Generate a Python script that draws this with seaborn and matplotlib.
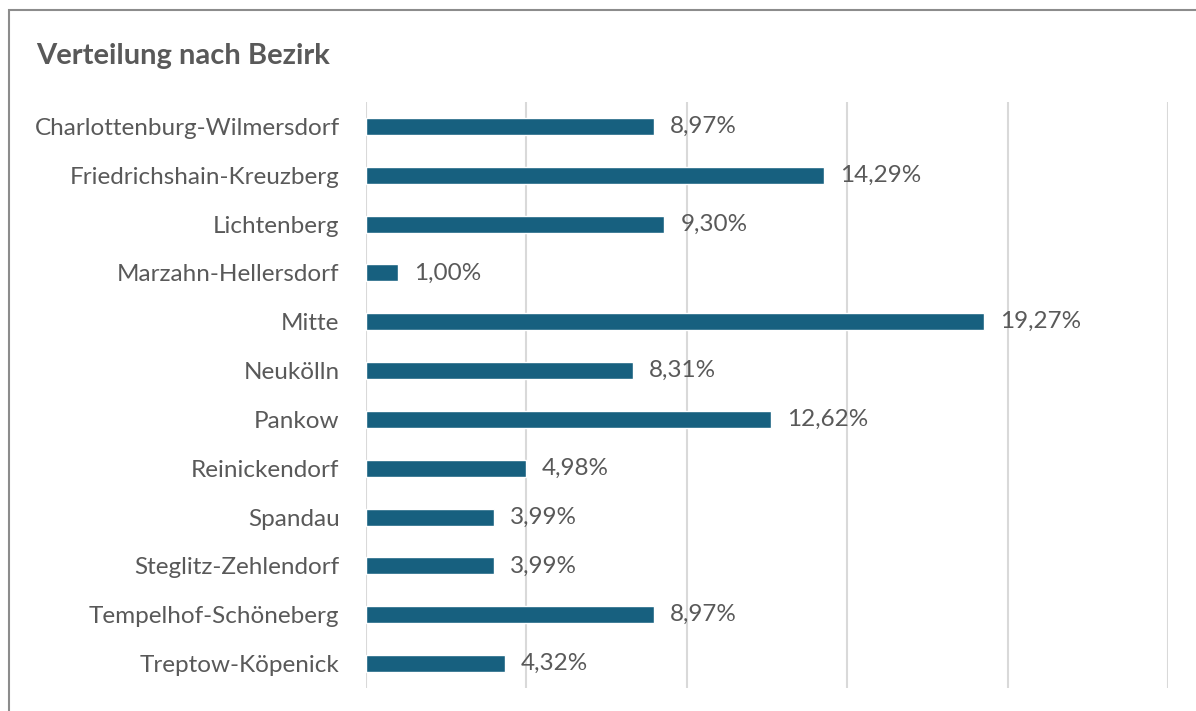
import matplotlib
matplotlib.use("Agg")
import matplotlib.pyplot as plt
import seaborn as sns
import pandas as pd
from matplotlib.patches import Rectangle

districts = ["Charlottenburg-Wilmersdorf", "Friedrichshain-Kreuzberg", "Lichtenberg",
             "Marzahn-Hellersdorf", "Mitte", "Neukölln", "Pankow", "Reinickendorf",
             "Spandau", "Steglitz-Zehlendorf", "Tempelhof-Schöneberg", "Treptow-Köpenick"]
shares = [8.97, 14.29, 9.30, 1.00, 19.27, 8.31, 12.62, 4.98, 3.99, 3.99, 8.97, 4.32]
title = "Verteilung nach Bezirk"

df = pd.DataFrame({"Bezirk": districts, "Anteil": shares})

sns.set_theme(style="white")
plt.rcParams['font.family'] = ['Lato', 'DejaVu Sans']
text_col = "#595959"
bar_col = "#17607f"

fig = plt.figure(figsize=(11.96, 7.11), dpi=100)
ax = fig.add_axes([366/1196, 1-688/711, (1168-366)/1196, (688-102)/711])

sns.barplot(data=df, y="Bezirk", x="Anteil", color=bar_col, width=0.35,
            orient="h", ax=ax, saturation=1)

ax.set_xlim(0, 25)
ax.set_ylim(len(districts)-0.5, -0.5)
ax.set_xticks([0, 5, 10, 15, 20, 25])
ax.xaxis.grid(True, color="#d9d9d9", linewidth=1.5)
ax.set_axisbelow(True)
ax.tick_params(axis="x", labelbottom=False, length=0)
ax.tick_params(axis="y", length=0, pad=19, labelsize=17.5, labelcolor=text_col)
ax.set_xlabel("")
ax.set_ylabel("")
for s in ax.spines.values():
    s.set_visible(False)

for i, v in enumerate(shares):
    ax.text(v + 0.5, i, f"{v:.2f}%".replace(".", ","), va="center", ha="left",
            fontsize=17.5, color=text_col)

fig.text(36/1196, 1-56/711, title, fontsize=21, fontweight="bold", color=text_col,
         va="center", ha="left")

fig.patches.append(Rectangle((8.5/1196, -0.1), 1.2, 1 - 9.5/711 + 0.1,
                             transform=fig.transFigure, fill=False,
                             edgecolor="#8c8c8c", linewidth=1.5))

fig.savefig("out.png", dpi=100)
